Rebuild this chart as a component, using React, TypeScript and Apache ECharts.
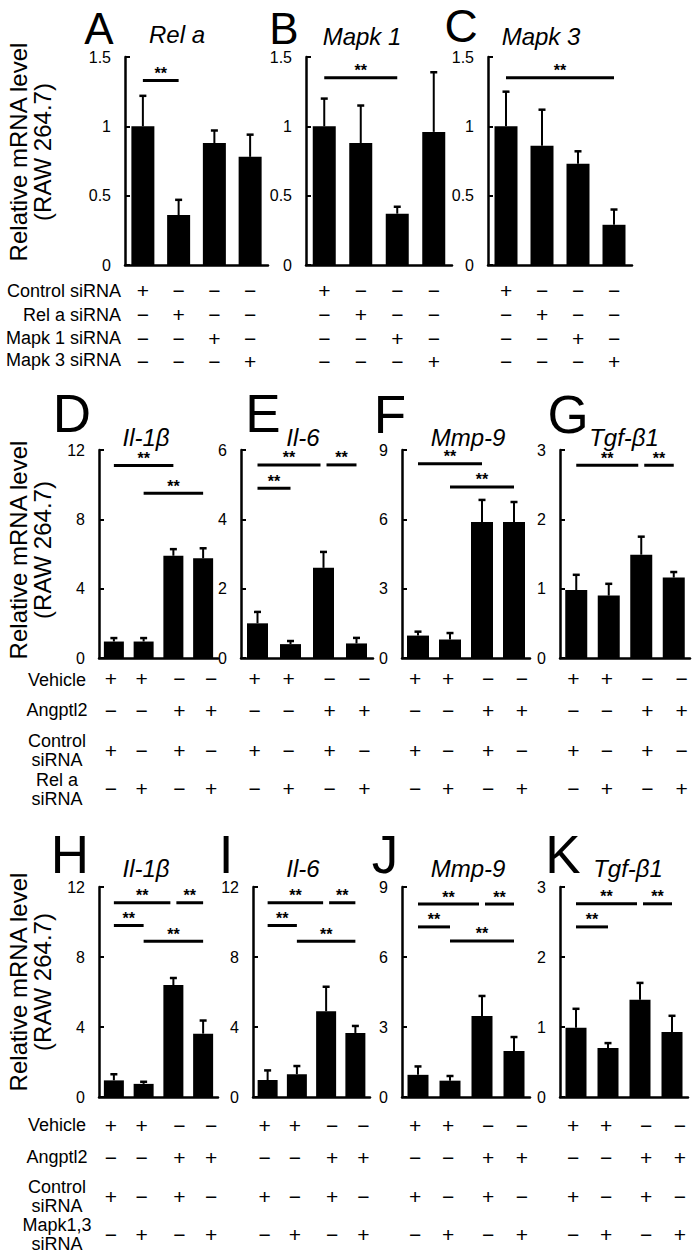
import React, { useEffect, useRef } from 'react';
import * as echarts from 'echarts';

const FONT = '"Liberation Sans", Arial, Helvetica, sans-serif';

// ---------- DATA ----------
const categories = ['1', '2', '3', '4'];

// Row 1 (RAW 264.7, siRNA knock-down)
const relaMean = [1.0, 0.36, 0.88, 0.78];
const relaErr = [0.22, 0.11, 0.09, 0.16];
const relaSig = [[0, 1, 1.33]];
const mapk1Mean = [1.0, 0.88, 0.37, 0.96];
const mapk1Err = [0.2, 0.27, 0.05, 0.43];
const mapk1Sig = [[0, 2, 1.35]];
const mapk3Mean = [1.0, 0.86, 0.73, 0.29];
const mapk3Err = [0.25, 0.26, 0.09, 0.11];
const mapk3Sig = [[0, 3, 1.35]];

// Row 2 (Rel a siRNA)
const il1bRelaMean = [0.95, 0.95, 5.9, 5.75];
const il1bRelaErr = [0.2, 0.2, 0.38, 0.58];
const il1bRelaSig = [[0, 2, 11.1], [1, 3, 9.5]];
const il6RelaMean = [1.0, 0.4, 2.6, 0.42];
const il6RelaErr = [0.33, 0.09, 0.46, 0.16];
const il6RelaSig = [[0, 2, 5.57], [2, 3, 5.57], [0, 1, 4.9]];
const mmp9RelaMean = [0.97, 0.8, 5.88, 5.88];
const mmp9RelaErr = [0.17, 0.28, 0.96, 0.87];
const mmp9RelaSig = [[0, 2, 8.4], [1, 3, 7.4]];
const tgfRelaMean = [0.98, 0.9, 1.49, 1.16];
const tgfRelaErr = [0.22, 0.17, 0.26, 0.08];
const tgfRelaSig = [[0, 2, 2.78], [2, 3, 2.78]];

// Row 3 (Mapk1,3 siRNA)
const il1bMapkMean = [0.95, 0.75, 6.4, 3.62];
const il1bMapkErr = [0.35, 0.12, 0.4, 0.75];
const il1bMapkSig = [[0, 2, 11.1], [2, 3, 11.1], [0, 1, 9.8], [1, 3, 8.9]];
const il6MapkMean = [0.97, 1.3, 4.9, 3.66];
const il6MapkErr = [0.55, 0.47, 1.4, 0.4];
const il6MapkSig = [[0, 2, 11.1], [2, 3, 11.1], [0, 1, 9.8], [1, 3, 8.9]];
const mmp9MapkMean = [0.95, 0.7, 3.47, 1.97];
const mmp9MapkErr = [0.36, 0.2, 0.86, 0.6];
const mmp9MapkSig = [[0, 2, 8.27], [2, 3, 8.27], [0, 1, 7.29], [1, 3, 6.69]];
const tgfMapkMean = [0.99, 0.7, 1.39, 0.93];
const tgfMapkErr = [0.27, 0.07, 0.24, 0.23];
const tgfMapkSig = [[0, 2, 2.76], [2, 3, 2.76], [0, 1, 2.43]];

// Treatment sign tables
const row1Control = ['+', '−', '−', '−'];
const row1Rela = ['−', '+', '−', '−'];
const row1Mapk1 = ['−', '−', '+', '−'];
const row1Mapk3 = ['−', '−', '−', '+'];
const vehicleSigns = ['+', '+', '−', '−'];
const angptl2Signs = ['−', '−', '+', '+'];
const controlSiSigns = ['+', '−', '+', '−'];
const knockSiSigns = ['−', '+', '−', '+'];

const row1Labels = ['Control siRNA', 'Rel a siRNA', 'Mapk 1 siRNA', 'Mapk 3 siRNA'];
const row2Labels = ['Vehicle', 'Angptl2', 'Control\nsiRNA', 'Rel a\nsiRNA'];
const row3Labels = ['Vehicle', 'Angptl2', 'Control\nsiRNA', 'Mapk1,3\nsiRNA'];

const yTitle = 'Relative mRNA level\n(RAW 264.7)';

// ---------- LAYOUT ----------
type SignRow = { margin: number; lh: number[]; shift: number[] };
const signRowTop: SignRow = { margin: 13, lh: [24, 25, 23, 22], shift: [0, 0, 0, 0] };
const signRowMid: SignRow = { margin: 4, lh: [32, 32, 48, 28], shift: [-3, -2, 6, 8] };
const signRowBot: SignRow = { margin: 12, lh: [32, 32, 46, 30], shift: [-3, -2, 6, 8] };
const SIGN_SIZE = 21;

const row1Signs = [row1Control, row1Rela, row1Mapk1, row1Mapk3];
const rowNSigns = [vehicleSigns, angptl2Signs, controlSiSigns, knockSiSigns];

type Panel = {
  letter: string; gene: string; mean: number[]; err: number[]; sig: number[][];
  max: number; interval: number; left: number; top: number; width: number; height: number;
  barWidth: number; signs: string[][]; signRow: SignRow;
  letterPos: [number, number, number]; genePos: [number, number];
};

const panels: Panel[] = [
  { letter: 'A', gene: 'Rel a', mean: relaMean, err: relaErr, sig: relaSig, max: 1.5, interval: 0.5,
    left: 125, top: 57, width: 143, height: 208, barWidth: 23, signs: row1Signs, signRow: signRowTop,
    letterPos: [99, 28, 44], genePos: [177, 34] },
  { letter: 'B', gene: 'Mapk 1', mean: mapk1Mean, err: mapk1Err, sig: mapk1Sig, max: 1.5, interval: 0.5,
    left: 306, top: 57, width: 146, height: 208, barWidth: 23, signs: row1Signs, signRow: signRowTop,
    letterPos: [284, 28, 44], genePos: [362, 36] },
  { letter: 'C', gene: 'Mapk 3', mean: mapk3Mean, err: mapk3Err, sig: mapk3Sig, max: 1.5, interval: 0.5,
    left: 488, top: 57, width: 144, height: 208, barWidth: 23, signs: row1Signs, signRow: signRowTop,
    letterPos: [461, 26, 46], genePos: [541, 36] },
  { letter: 'D', gene: 'Il-1β', mean: il1bRelaMean, err: il1bRelaErr, sig: il1bRelaSig, max: 12, interval: 4,
    left: 99, top: 450, width: 119, height: 208, barWidth: 20, signs: rowNSigns, signRow: signRowMid,
    letterPos: [72, 413, 53], genePos: [146, 437] },
  { letter: 'E', gene: 'Il-6', mean: il6RelaMean, err: il6RelaErr, sig: il6RelaSig, max: 6, interval: 2,
    left: 241, top: 450, width: 132, height: 208, barWidth: 21, signs: rowNSigns, signRow: signRowMid,
    letterPos: [263, 413, 53], genePos: [303, 437] },
  { letter: 'F', gene: 'Mmp-9', mean: mmp9RelaMean, err: mmp9RelaErr, sig: mmp9RelaSig, max: 9, interval: 3,
    left: 402, top: 450, width: 128, height: 208, barWidth: 22, signs: rowNSigns, signRow: signRowMid,
    letterPos: [390, 414, 53], genePos: [468, 437] },
  { letter: 'G', gene: 'Tgf-β1', mean: tgfRelaMean, err: tgfRelaErr, sig: tgfRelaSig, max: 3, interval: 1,
    left: 560, top: 450, width: 130, height: 208, barWidth: 22, signs: rowNSigns, signRow: signRowMid,
    letterPos: [568, 414, 53], genePos: [624, 437] },
  { letter: 'H', gene: 'Il-1β', mean: il1bMapkMean, err: il1bMapkErr, sig: il1bMapkSig, max: 12, interval: 4,
    left: 99, top: 887, width: 119, height: 210, barWidth: 20, signs: rowNSigns, signRow: signRowBot,
    letterPos: [70, 854, 53], genePos: [146, 868] },
  { letter: 'I', gene: 'Il-6', mean: il6MapkMean, err: il6MapkErr, sig: il6MapkSig, max: 12, interval: 4,
    left: 253, top: 887, width: 117, height: 210, barWidth: 20, signs: rowNSigns, signRow: signRowBot,
    letterPos: [226, 854, 53], genePos: [303, 868] },
  { letter: 'J', gene: 'Mmp-9', mean: mmp9MapkMean, err: mmp9MapkErr, sig: mmp9MapkSig, max: 9, interval: 3,
    left: 402, top: 887, width: 128, height: 210, barWidth: 21, signs: rowNSigns, signRow: signRowBot,
    letterPos: [385, 854, 53], genePos: [468, 868] },
  { letter: 'K', gene: 'Tgf-β1', mean: tgfMapkMean, err: tgfMapkErr, sig: tgfMapkSig, max: 3, interval: 1,
    left: 560, top: 887, width: 128, height: 210, barWidth: 21, signs: rowNSigns, signRow: signRowBot,
    letterPos: [563, 854, 53], genePos: [628, 868] },
];

function buildOption() {
  const grid: any[] = [];
  const xAxis: any[] = [];
  const yAxis: any[] = [];
  const series: any[] = [];

  panels.forEach((p, i) => {
    grid.push({ left: p.left, top: p.top, width: p.width, height: p.height, containLabel: false });

    const rich: any = {};
    for (let l = 0; l < 4; l++) {
      for (let c = 0; c < 4; c++) {
        const s = p.signRow.shift[c];
        rich[`l${l}c${c}`] = {
          fontSize: SIGN_SIZE, fontFamily: FONT, color: '#000', lineHeight: p.signRow.lh[l],
          padding: s >= 0 ? [0, 0, 0, 2 * s] : [0, -2 * s, 0, 0],
        };
      }
    }
    xAxis.push({
      type: 'category', gridIndex: i, data: categories,
      axisLine: { show: true, lineStyle: { color: '#000', width: 2.5 } },
      axisTick: { show: false },
      axisLabel: {
        interval: 0, margin: p.signRow.margin, verticalAlign: 'top', fontSize: SIGN_SIZE, color: '#000',
        formatter: (_v: string, idx: number) => p.signs.map((row, l) => `{l${l}c${idx}|${row[idx]}}`).join('\n'),
        rich,
      },
    });
    yAxis.push({
      type: 'value', gridIndex: i, min: 0, max: p.max, interval: p.interval,
      axisLine: { show: true, lineStyle: { color: '#000', width: 2.5 } },
      axisTick: { show: true, inside: true, length: 5, lineStyle: { color: '#000', width: 2 } },
      axisLabel: { color: '#000', fontSize: 16, fontFamily: FONT, margin: 14 },
      splitLine: { show: false },
    });

    series.push({
      type: 'bar', xAxisIndex: i, yAxisIndex: i, data: p.mean, barWidth: p.barWidth,
      itemStyle: { color: '#000' }, silent: true, z: 2,
    });

    series.push({
      type: 'custom', xAxisIndex: i, yAxisIndex: i,
      data: p.mean.map((m, k) => [k, m, m + p.err[k]]),
      encode: { x: 0, y: [1, 2] },
      renderItem: (_params: any, api: any) => {
        const x = api.value(0);
        const p0 = api.coord([x, api.value(1)]);
        const p1 = api.coord([x, api.value(2)]);
        return {
          type: 'group',
          children: [
            { type: 'line', shape: { x1: p0[0], y1: p0[1], x2: p1[0], y2: p1[1] },
              style: { stroke: '#000', lineWidth: 2 } },
            { type: 'line', shape: { x1: p1[0] - 3.5, y1: p1[1], x2: p1[0] + 3.5, y2: p1[1] },
              style: { stroke: '#000', lineWidth: 2.5 } },
          ],
        };
      },
      z: 3, silent: true,
    });

    series.push({
      type: 'custom', xAxisIndex: i, yAxisIndex: i,
      data: p.sig,
      encode: { x: [0, 1], y: 2 },
      renderItem: (_params: any, api: any) => {
        const from = api.value(0);
        const to = api.value(1);
        const yv = api.value(2);
        const shareLeft = p.sig.some((s) => s[2] === yv && s[1] === from);
        const shareRight = p.sig.some((s) => s[2] === yv && s[0] === to);
        const a = api.coord([from, yv]);
        const b = api.coord([to, yv]);
        const x1 = a[0] + (shareLeft ? 3 : 0);
        const x2 = b[0] - (shareRight ? 3 : 0);
        return {
          type: 'group',
          children: [
            { type: 'line', shape: { x1, y1: a[1], x2, y2: a[1] }, style: { stroke: '#000', lineWidth: 3 } },
            { type: 'text', x: (x1 + x2) / 2, y: a[1] - 7,
              style: { text: '**', fontSize: 16, lineHeight: 10, fontWeight: 'bold', fontFamily: FONT, fill: '#000', align: 'center', verticalAlign: 'middle' } },
          ],
        };
      },
      z: 3, silent: true,
    });
  });

  const graphic: any[] = [];
  panels.forEach((p) => {
    graphic.push({ type: 'text', x: p.letterPos[0], y: p.letterPos[1],
      style: { text: p.letter, fontSize: p.letterPos[2], lineHeight: Math.round(p.letterPos[2] * 0.74),
        fontFamily: FONT, fill: '#000', align: 'center', verticalAlign: 'middle' } });
    graphic.push({ type: 'text', x: p.genePos[0], y: p.genePos[1],
      style: { text: p.gene, fontSize: 24, lineHeight: 22, fontStyle: 'italic', fontFamily: FONT, fill: '#000', align: 'center', verticalAlign: 'middle' } });
  });
  [152, 550, 982].forEach((cy) => {
    graphic.push({ type: 'text', x: 30, y: cy, rotation: Math.PI / 2,
      style: { text: yTitle, fontSize: 24, lineHeight: 24, fontFamily: FONT, fill: '#000', align: 'center', verticalAlign: 'middle' } });
  });
  const row1Y = [291, 315, 338, 360];
  row1Labels.forEach((t, k) => {
    graphic.push({ type: 'text', x: 121, y: row1Y[k],
      style: { text: t, fontSize: 18, lineHeight: 20, fontFamily: FONT, fill: '#000', align: 'right', verticalAlign: 'middle' } });
  });
  const row2Y = [680, 710, 750, 789];
  row2Labels.forEach((t, k) => {
    graphic.push({ type: 'text', x: 57, y: row2Y[k],
      style: { text: t, fontSize: 18, lineHeight: 19, fontFamily: FONT, fill: '#000', align: 'center', verticalAlign: 'middle' } });
  });
  const row3Y = [1125, 1157, 1196, 1234];
  row3Labels.forEach((t, k) => {
    graphic.push({ type: 'text', x: 57, y: row3Y[k],
      style: { text: t, fontSize: 18, lineHeight: 19, fontFamily: FONT, fill: '#000', align: 'center', verticalAlign: 'middle' } });
  });

  return {
    animation: false,
    backgroundColor: '#fff',
    textStyle: { fontFamily: FONT },
    grid, xAxis, yAxis, series, graphic,
  };
}

export default function App() {
  const ref = useRef<HTMLDivElement>(null);
  useEffect(() => {
    if (!ref.current) return;
    const chart = echarts.init(ref.current, undefined, { renderer: 'svg' });
    chart.setOption(buildOption() as any);
    return () => chart.dispose();
  }, []);
  return (
    <div
      ref={ref}
      style={{ position: 'fixed', left: 0, top: 0, width: 693, height: 1253, background: '#fff' }}
    />
  );
}
